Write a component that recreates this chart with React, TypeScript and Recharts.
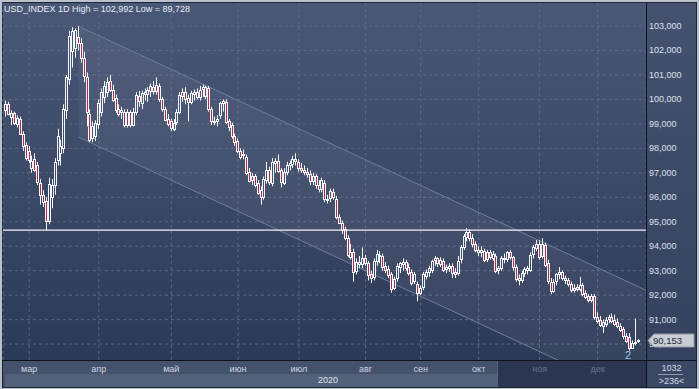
import React from 'react';
import {
  ComposedChart,
  Bar,
  Area,
  XAxis,
  YAxis,
  CartesianGrid,
  ReferenceLine,
  ReferenceDot,
} from 'recharts';

// USD_INDEX 1D, one candle per trading day (mid Feb -> 22 Dec 2020)
const open = [
  99.55, 99.8, 99.3, 99.45, 99.0, 99.2, 98.6, 98.15, 97.9, 97.2,
  97.55, 97.3, 96.6, 96.1, 95.85, 95.05, 96.0, 96.5, 97.5, 97.8,
  98.0, 99.55, 100.85, 102.0, 102.1, 102.55, 102.3, 101.7, 100.9, 99.4,
  98.4, 98.5, 99.0, 99.5, 100.1, 100.3, 100.75, 100.4, 100.05, 99.6,
  99.45, 99.5, 98.95, 99.5, 98.95, 99.5, 100.15, 99.85, 100.2, 100.25,
  100.35, 100.5, 100.35, 100.55, 100.0, 99.6, 99.2, 99.1, 98.8, 99.1,
  99.5, 100.15, 100.3, 100.05, 99.9, 100.2, 100.3, 100.1, 100.4, 100.5,
  100.45, 99.6, 99.1, 99.1, 99.35, 99.85, 99.9, 99.1, 98.95, 98.5,
  98.3, 97.9, 97.7, 97.65, 97.05, 96.7, 96.85, 96.6, 96.3, 96.0,
  96.7, 97.1, 96.6, 97.4, 97.5, 97.1, 96.6, 97.0, 97.3, 97.35,
  97.55, 97.45, 97.2, 97.1, 97.05, 96.95, 96.65, 96.85, 96.5, 96.35,
  96.6, 95.95, 95.95, 96.2, 95.95, 95.2, 94.95, 94.7, 94.35, 93.55,
  93.75, 93.0, 93.35, 93.25, 93.5, 93.3, 92.85, 92.75, 93.4, 93.6,
  93.6, 93.2, 93.05, 92.85, 92.3, 92.7, 93.15, 93.25, 93.35, 93.15,
  92.95, 92.55, 92.45, 92.1, 92.3, 92.8, 92.95, 93.05, 93.4, 93.5,
  93.3, 93.4, 93.05, 93.1, 93.2, 92.95, 92.9, 93.45, 93.95, 94.4,
  94.6, 94.35, 94.1, 93.85, 93.75, 93.8, 93.45, 93.75, 93.55, 93.6,
  93.0, 93.1, 93.5, 93.45, 93.75, 93.55, 93.15, 92.7, 92.6, 92.9,
  93.0, 93.05, 93.65, 93.95, 94.1, 93.6, 94.05, 93.3, 92.55, 92.2,
  92.55, 92.85, 92.95, 92.7, 92.6, 92.45, 92.3, 92.35, 92.25, 92.4,
  92.1, 91.95, 91.8, 91.95, 91.1, 91.0, 90.75, 90.85, 91.0, 91.1,
  91.0, 90.9, 90.75, 90.6, 90.35, 90.3, 89.85, 90.05, 90.1,
];
const high = [
  99.95, 99.9, 99.55, 99.5, 99.35, 99.3, 98.7, 98.25, 98.1, 97.7,
  97.8, 97.45, 96.75, 96.3, 96.0, 96.8, 96.75, 97.6, 98.8, 98.35,
  99.8, 101.0, 102.8, 102.95, 102.9, 102.99, 102.5, 101.95, 101.1, 99.6,
  99.1, 99.15, 100.0, 100.45, 100.75, 100.9, 101.0, 100.6, 100.2, 99.8,
  99.7, 99.6, 99.6, 99.55, 99.65, 100.3, 100.35, 100.35, 100.45, 100.5,
  100.65, 100.75, 100.9, 100.65, 100.1, 99.7, 99.4, 99.2, 99.2, 99.6,
  100.3, 100.45, 100.5, 100.2, 100.35, 100.4, 100.45, 100.55, 100.6, 100.55,
  100.55, 99.7, 99.3, 99.35, 99.9, 100.0, 100.0, 99.2, 99.05, 98.6,
  98.4, 98.0, 97.95, 97.75, 97.2, 97.0, 96.95, 96.7, 96.45, 96.85,
  97.45, 97.25, 97.6, 97.6, 97.75, 97.2, 97.2, 97.45, 97.5, 97.7,
  97.8, 97.55, 97.4, 97.3, 97.2, 97.1, 97.0, 96.95, 96.7, 96.8,
  96.7, 96.1, 96.35, 96.35, 96.05, 95.3, 95.05, 94.8, 94.45, 94.1,
  93.9, 93.5, 93.6, 93.95, 93.65, 93.4, 93.0, 93.5, 93.85, 93.8,
  93.7, 93.35, 93.2, 92.95, 92.75, 93.3, 93.35, 93.5, 93.45, 93.3,
  93.05, 92.95, 92.55, 92.4, 92.95, 93.05, 93.2, 93.45, 93.6, 93.55,
  93.55, 93.5, 93.25, 93.3, 93.3, 93.1, 93.6, 94.05, 94.5, 94.75,
  94.7, 94.5, 94.2, 94.0, 94.0, 93.9, 93.85, 93.85, 93.8, 93.7,
  93.2, 93.6, 93.7, 93.8, 93.85, 93.6, 93.25, 92.85, 93.0, 93.15,
  93.2, 93.75, 94.05, 94.25, 94.25, 94.33, 94.15, 93.45, 92.7, 92.65,
  92.9, 93.15, 93.0, 92.8, 92.7, 92.55, 92.45, 92.45, 92.75, 92.5,
  92.2, 92.05, 92.05, 92.05, 91.3, 91.15, 91.0, 91.1, 91.2, 91.25,
  91.2, 91.05, 90.85, 90.7, 90.45, 90.45, 90.15, 91.05, 90.2,
];
const low = [
  99.3, 99.35, 98.95, 98.95, 98.85, 98.55, 97.9, 97.5, 97.4, 97.0,
  97.05, 96.5, 95.7, 95.6, 94.65, 94.9, 95.55, 96.1, 97.3, 97.3,
  97.8, 99.2, 100.6, 101.3, 101.7, 102.0, 101.5, 100.7, 98.9, 98.25,
  98.25, 98.3, 98.8, 99.3, 99.85, 100.1, 100.3, 99.9, 99.45, 99.3,
  99.2, 98.85, 98.85, 98.85, 98.9, 99.35, 99.7, 99.6, 99.95, 99.9,
  100.1, 100.2, 100.2, 99.9, 99.5, 99.1, 98.9, 98.7, 98.7, 98.95,
  99.4, 99.9, 99.8, 99.1, 99.8, 99.95, 100.0, 99.95, 100.1, 100.0,
  99.5, 98.95, 98.95, 98.9, 99.2, 99.5, 99.0, 98.7, 98.4, 98.1,
  97.8, 97.55, 97.55, 96.9, 96.6, 96.5, 96.4, 96.1, 95.7, 95.9,
  96.55, 96.5, 96.45, 97.0, 97.0, 96.4, 96.5, 96.9, 97.1, 97.2,
  97.3, 97.05, 97.0, 96.9, 96.8, 96.5, 96.5, 96.35, 96.2, 96.2,
  95.8, 95.75, 95.8, 95.9, 95.1, 94.9, 94.5, 94.25, 93.55, 93.45,
  92.55, 92.85, 93.1, 93.1, 93.2, 92.6, 92.5, 92.6, 93.2, 93.3,
  93.0, 92.9, 92.7, 92.1, 92.2, 92.55, 92.9, 93.0, 93.0, 92.8,
  92.4, 92.45, 91.75, 92.0, 92.2, 92.65, 92.75, 92.9, 93.2, 93.15,
  93.15, 92.95, 92.9, 92.95, 92.7, 92.7, 92.8, 93.3, 93.85, 94.2,
  94.2, 93.95, 93.75, 93.6, 93.55, 93.35, 93.35, 93.45, 93.4, 92.9,
  92.85, 93.0, 93.3, 93.35, 93.45, 93.0, 92.55, 92.4, 92.5, 92.75,
  92.85, 92.95, 93.5, 93.8, 93.45, 93.5, 93.15, 92.45, 92.05, 92.1,
  92.4, 92.65, 92.6, 92.45, 92.35, 92.1, 92.1, 92.15, 92.15, 91.95,
  91.85, 91.7, 91.7, 91.0, 90.85, 90.7, 90.45, 90.7, 90.85, 90.85,
  90.75, 90.65, 90.5, 90.2, 90.05, 89.728, 89.8, 89.95, 90.05,
];
const close = [
  99.8, 99.4, 99.45, 99.05, 99.25, 98.6, 98.1, 97.6, 97.55, 97.5,
  97.1, 96.6, 96.1, 95.8, 95.05, 96.55, 96.5, 97.45, 98.5, 98.1,
  99.6, 100.9, 102.6, 102.8, 102.85, 102.3, 101.7, 100.95, 99.45, 98.35,
  98.9, 99.05, 99.85, 100.3, 100.55, 100.7, 100.4, 100.0, 99.55, 99.4,
  99.55, 98.95, 99.5, 98.95, 99.5, 100.2, 99.95, 100.25, 100.3, 100.4,
  100.55, 100.35, 100.6, 100.0, 99.6, 99.15, 99.0, 98.8, 99.05, 99.5,
  100.2, 100.3, 100.0, 99.9, 100.25, 100.3, 100.1, 100.4, 100.5, 100.15,
  99.6, 99.1, 99.05, 99.2, 99.85, 99.95, 99.1, 98.85, 98.5, 98.25,
  97.9, 97.65, 97.75, 97.0, 96.7, 96.85, 96.5, 96.2, 96.0, 96.75,
  97.1, 96.6, 97.45, 97.5, 97.1, 96.6, 97.05, 97.3, 97.4, 97.55,
  97.45, 97.2, 97.1, 97.0, 96.95, 96.65, 96.85, 96.5, 96.35, 96.7,
  95.95, 95.9, 96.25, 96.0, 95.2, 94.95, 94.65, 94.35, 93.65, 93.75,
  92.95, 93.35, 93.25, 93.5, 93.3, 92.8, 92.7, 93.4, 93.7, 93.65,
  93.15, 93.05, 92.8, 92.25, 92.65, 93.2, 93.3, 93.35, 93.1, 92.9,
  92.5, 92.85, 92.1, 92.3, 92.85, 92.95, 93.1, 93.4, 93.5, 93.3,
  93.45, 93.05, 93.15, 93.2, 92.9, 92.85, 93.4, 93.95, 94.4, 94.6,
  94.35, 94.1, 93.85, 93.75, 93.85, 93.45, 93.75, 93.55, 93.7, 93.0,
  93.1, 93.5, 93.45, 93.75, 93.55, 93.15, 92.65, 92.6, 92.9, 93.05,
  93.1, 93.65, 93.95, 94.1, 93.55, 94.1, 93.25, 92.55, 92.2, 92.55,
  92.85, 92.95, 92.7, 92.6, 92.45, 92.2, 92.2, 92.25, 92.4, 92.05,
  91.95, 91.8, 91.95, 91.1, 90.95, 90.8, 90.9, 91.0, 91.1, 90.95,
  90.85, 90.75, 90.6, 90.3, 90.15, 89.85, 90.05, 90.1, 90.153,
];

// axis ticks (candle index where each month label sits)
const monthTicks = [8, 32, 57, 80, 101, 124, 143, 163, 184, 204];
const monthLabels = ['мар', 'апр', 'май', 'июн', 'июл', 'авг', 'сен', 'окт', 'ноя', 'дек'];
const yearTicks = [111];
const yearLabels = ['2020'];
const priceTicks = [90, 91, 92, 93, 94, 95, 96, 97, 98, 99, 100, 101, 102, 103];

// drawn objects on the chart
const supportLevel = 94.66;
const lastPrice = 90.153;
const channelIdx = [25, 220.69];
const channelLow = [98.46, 87.67];
const channelHigh = [102.99, 92.2];
const markerIdx = 214.5;
const markerPrice = 89.55;
const dimFromIdx = 170; // labels right of the navigator window are greyed out

const data = close.map((c, i) => ({
  i,
  open: open[i],
  high: high[i],
  low: low[i],
  close: c,
  range: [low[i], high[i]],
}));

const channelData = channelIdx.map((i, k) => ({ i, band: [channelLow[k], channelHigh[k]] }));

// the last-price tag is drawn as a tick right after 90,000 so it sits on top of it
const axisTicks = [priceTicks[0], lastPrice, ...priceTicks.slice(1)];

const fmt = (v: number) => v.toFixed(3).replace('.', ',');

const FONT = '"Liberation Sans", Arial, sans-serif';
const CANDLE_LINE = '#f3f5f9';
const CANDLE_RED = '#b02c4b';

const Candle = (props: any) => {
  const { x, y, width, height, payload } = props;
  if (x == null || y == null || !payload) return null;
  const { open: o, high: h, low: l, close: c } = payload;
  const k = h > l ? height / (h - l) : 0;
  const cx = Math.floor(x + width / 2) + 0.5;
  const yO = y + (h - o) * k;
  const yC = y + (h - c) * k;
  const top = Math.round(Math.min(yO, yC)) + 0.5;
  const bh = Math.max(1, Math.round(Math.abs(yC - yO)));
  const up = c >= o;
  return (
    <g>
      <line x1={cx} x2={cx} y1={y} y2={top} stroke={CANDLE_LINE} strokeWidth={1} />
      <line x1={cx} x2={cx} y1={top + bh} y2={y + height} stroke={CANDLE_LINE} strokeWidth={1} />
      <rect
        x={cx - 1}
        y={top}
        width={2}
        height={bh}
        fill={up ? 'none' : CANDLE_RED}
        stroke={CANDLE_LINE}
        strokeWidth={1}
      />
    </g>
  );
};

const PriceTick = ({ x, y, payload }: any) => {
  if (payload.value === lastPrice) {
    const x0 = x - 1;
    const cy = Math.round(y) + 0.5;
    return (
      <g>
        <path
          d={`M${x0} ${cy} L${x0 + 6} ${cy - 6.5} H${x0 + 46} V${cy + 6.5} H${x0 + 6} Z`}
          fill="#c9cdd4"
          stroke="#8f98a6"
          strokeWidth={1}
        />
        <text x={x0 + 5} y={cy + 3.5} fontSize={9.5} fontFamily={FONT} fill="#1d2736">
          {fmt(lastPrice)}
        </text>
      </g>
    );
  }
  return (
    <text x={x} y={y} dy={3} fill="#dae1ea" fontSize={9} fontFamily={FONT} textAnchor="start">
      {fmt(payload.value)}
    </text>
  );
};

const MonthTick = ({ x, y, payload }: any) => {
  const idx = monthTicks.indexOf(payload.value);
  return (
    <text
      x={x}
      y={y}
      dy={12}
      fill={payload.value >= dimFromIdx ? '#67758f' : '#cdd5e1'}
      fontSize={9}
      fontFamily={FONT}
      textAnchor="middle"
    >
      {monthLabels[idx]}
    </text>
  );
};

const YearTick = ({ x, y, payload }: any) => (
  <text x={x} y={y} dy={9} fill="#dfe5ee" fontSize={9} fontFamily={FONT} textAnchor="middle">
    {yearLabels[yearTicks.indexOf(payload.value)]}
  </text>
);

const MarkerLabel = (props: any) => (
  <text x={props.cx} y={props.cy} dy={4} fill="#9ec4ea" fontSize={11} fontFamily={FONT} textAnchor="middle">
    2
  </text>
);

const box = (left: number, top: number, width: number, height: number, background: string) => (
  <div style={{ position: 'absolute', left, top, width, height, background }} />
);

export default function App() {
  return (
    <div
      style={{
        position: 'absolute',
        left: 0,
        top: 0,
        width: 699,
        height: 389,
        background: '#b9c2cd',
        overflow: 'hidden',
        fontFamily: FONT,
      }}
    >
      {/* panels behind the chart */}
      {box(2, 2, 695, 386, '#1d2433')}
      {box(647, 3, 49, 357, 'linear-gradient(#44526f, #34425f)')}
      {box(3, 361, 643, 13, '#44526c')}
      {box(3, 374, 643, 13, '#44526c')}
      {box(5, 374, 492, 13, '#52607a')}
      {box(497, 361, 149, 26, '#2b3750')}
      {box(497, 361, 1, 26, '#56647e')}
      {box(647, 361, 49, 26, '#3a4866')}
      {box(658, 374, 25, 1, '#8d98aa')}
      <div style={{ position: 'absolute', left: 647, top: 363, width: 49, textAlign: 'center', fontSize: 9, lineHeight: '10px', color: '#d5dce6' }}>
        1032
      </div>
      <div style={{ position: 'absolute', left: 647, top: 376, width: 49, textAlign: 'center', fontSize: 9, lineHeight: '10px', color: '#d5dce6' }}>
        {'>236<'}
      </div>

      <div style={{ position: 'absolute', left: 0, top: 0 }}>
        <ComposedChart
          width={699}
          height={389}
          data={data}
          margin={{ top: 3, right: 0, bottom: 2, left: 3 }}
        >
          <defs>
            <linearGradient id="plotBg" x1="0" y1="0" x2="0" y2="1">
              <stop offset="0%" stopColor="#4a5877" />
              <stop offset="100%" stopColor="#2d3a56" />
            </linearGradient>
          </defs>
          <CartesianGrid
            fill="url(#plotBg)"
            stroke="#5a6985"
            strokeDasharray="3 3"
            strokeWidth={1}
            horizontalValues={priceTicks}
          />
          <XAxis
            dataKey="i"
            type="number"
            domain={[-1.03, 220.69]}
            allowDataOverflow
            ticks={monthTicks}
            interval={0}
            tick={<MonthTick />}
            tickLine={false}
            axisLine={false}
            tickSize={0}
            tickMargin={0}
            height={14}
          />
          <XAxis
            xAxisId="year"
            dataKey="i"
            type="number"
            domain={[-1.03, 220.69]}
            allowDataOverflow
            ticks={yearTicks}
            interval={0}
            tick={<YearTick />}
            tickLine={false}
            axisLine={false}
            tickSize={0}
            tickMargin={0}
            height={13}
          />
          <YAxis
            orientation="right"
            type="number"
            domain={[89.35, 103.94]}
            allowDataOverflow
            ticks={axisTicks}
            interval={0}
            tick={<PriceTick />}
            tickLine={false}
            axisLine={false}
            tickSize={0}
            tickMargin={3}
            width={53}
          />
          <Area
            data={channelData}
            dataKey="band"
            type="linear"
            stroke="#6f7e9c"
            strokeWidth={1}
            fill="#ffffff"
            fillOpacity={0.05}
            dot={false}
            activeDot={false}
            isAnimationActive={false}
          />
          <ReferenceLine y={supportLevel} stroke="#f1f3f7" strokeWidth={1.3} />
          <Bar dataKey="range" barSize={3} shape={<Candle />} isAnimationActive={false} />
          <ReferenceDot x={markerIdx} y={markerPrice} r={0} shape={<MarkerLabel />} />
        </ComposedChart>
      </div>

      {/* frame lines and title */}
      {box(646, 2, 1, 386, '#0d1119')}
      {box(2, 360, 695, 1, '#0d1119')}
      <div
        style={{
          position: 'absolute',
          left: 4,
          top: 4,
          fontSize: 9,
          lineHeight: '11px',
          color: '#e6ebf2',
          whiteSpace: 'nowrap',
        }}
      >
        USD_INDEX 1D High = 102,992 Low = 89,728
      </div>
    </div>
  );
}
